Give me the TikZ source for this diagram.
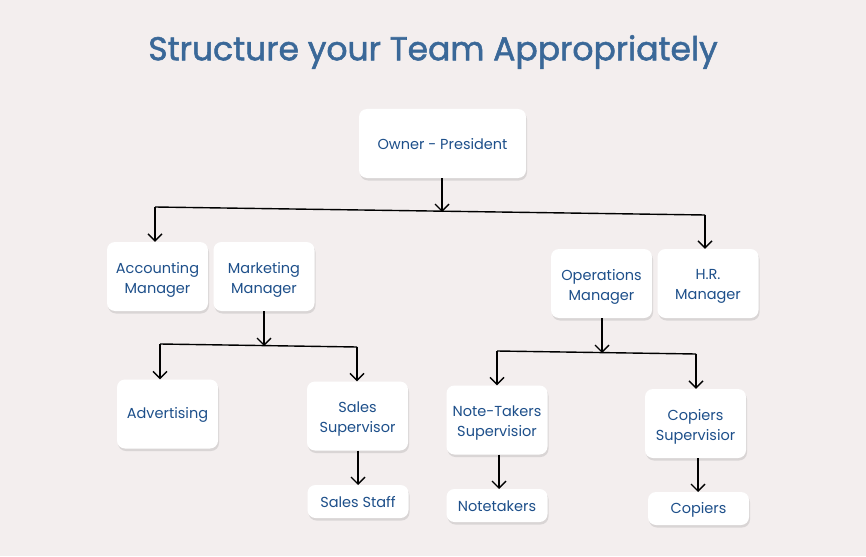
\documentclass[tikz,border=0pt]{standalone}
\usepackage{fontspec}
\setmainfont{Poppins}
\newfontfamily\titlefont{Poppins}[FakeBold=1.6]
\usetikzlibrary{arrows.meta,shadows}
\definecolor{bgc}{HTML}{F3EEEE}
\definecolor{titlec}{HTML}{3A6898}
\definecolor{textc}{HTML}{1D4F8A}
\tikzset{
  box/.style={draw=none, fill=white, rounded corners=8pt, inner sep=0pt,
    minimum width=101pt, minimum height=69pt,
    drop shadow={opacity=0.22, shadow xshift=1pt, shadow yshift=-2.5pt}},
  smallbox/.style={box, minimum height=33pt},
  lbl/.style={align=center, text=textc, font=\fontsize{14.5}{20}\selectfont, inner sep=0pt},
  link/.style={draw=black, line width=1.4pt},
  arr/.style={link, -{Straight Barb[length=7pt,width=14pt,line width=1.4pt]}}
}
\begin{document}
\begin{tikzpicture}[x=1pt,y=-1pt]
\fill[bgc] (0,0) rectangle (866,556);
\useasboundingbox (0,0) rectangle (866,556);

\node[text=titlec, font=\titlefont\fontsize{33}{38}\selectfont] (title) at (433,52) {Structure your Team Appropriately};

\node[box, minimum width=167pt] (owner) at (442.5,143.5) {};
\node[box] (acc) at (157.5,276.5) {};
\node[box] (mkt) at (264,276.5) {};
\node[box] (ops) at (601.5,283.5) {};
\node[box] (hr) at (708,283.5) {};
\node[box] (adv) at (167.5,414) {};
\node[box] (ssup) at (357.5,416) {};
\node[smallbox] (sstaff) at (358,501.5) {};
\node[box] (nts) at (497,420) {};
\node[smallbox] (nt) at (497,505.5) {};
\node[box] (cs) at (695.5,423.5) {};
\node[smallbox] (cp) at (698.5,508.5) {};

\node[lbl] (owner-t) at ([yshift=-1pt]owner.center) {Owner - President};
\node[lbl] (acc-t) at ([yshift=-3pt]acc.center) {Accounting\\Manager};
\node[lbl] (mkt-t) at ([yshift=-3pt]mkt.center) {Marketing\\Manager};
\node[lbl] (ops-t) at ([yshift=-3pt]ops.center) {Operations\\Manager};
\node[lbl] (hr-t) at ([yshift=-3pt]hr.center) {H.R.\\Manager};
\node[lbl] (adv-t) at ([yshift=-1pt]adv.center) {Advertising};
\node[lbl] (ssup-t) at ([yshift=-3pt]ssup.center) {Sales\\Supervisor};
\node[lbl] (sstaff-t) at ([yshift=-1pt]sstaff.center) {Sales Staff};
\node[lbl] (nts-t) at ([yshift=-3pt]nts.center) {Note-Takers\\Supervisior};
\node[lbl] (nt-t) at ([yshift=-1pt]nt.center) {Notetakers};
\node[lbl] (cs-t) at ([yshift=-3pt]cs.center) {Copiers\\Supervisior};
\node[lbl] (cp-t) at ([yshift=-1pt]cp.center) {Copiers};

% top level
\coordinate (j1) at (442,212);
\coordinate (l1) at (155,207);
\coordinate (r1) at (705,215);
\draw[arr] (owner.south -| j1) -- (j1);
\draw[link] (l1) -- (r1);
\draw[arr] (l1) -- (l1 |- acc.north);
\draw[arr] (r1) -- (r1 |- hr.north);

% marketing
\coordinate (j2) at (264,346);
\coordinate (l2) at (160,344);
\coordinate (r2) at (357,347);
\draw[arr] (mkt.south) -- (j2);
\draw[link] (l2) -- (r2);
\draw[arr] (l2) -- (l2 |- adv.north);
\draw[arr] (r2) -- (r2 |- ssup.north);
\coordinate (s1) at (358,485);
\draw[arr] (ssup.south -| s1) -- (s1);

% operations
\coordinate (j3) at (602,353);
\coordinate (l3) at (497,351);
\coordinate (r3) at (696,354);
\draw[arr] (ops.south -| j3) -- (j3);
\draw[link] (l3) -- (r3);
\draw[arr] (l3) -- (l3 |- nts.north);
\draw[arr] (r3) -- (r3 |- cs.north);
\coordinate (n1) at (499,489);
\draw[arr] (nts.south -| n1) -- (n1);
\coordinate (c1) at (698,492);
\draw[arr] (cs.south -| c1) -- (c1);
\end{tikzpicture}
\end{document}
